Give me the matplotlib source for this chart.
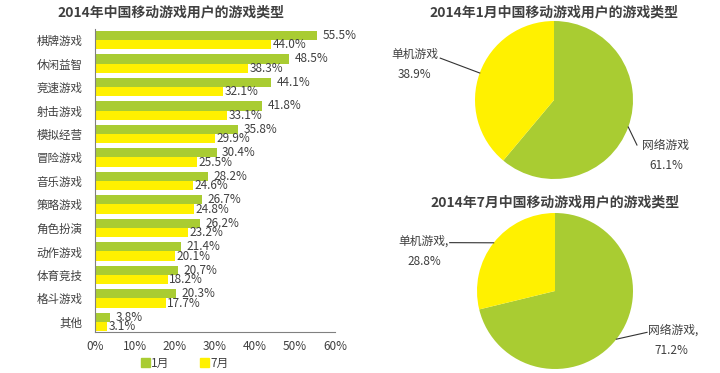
import numpy as np
import matplotlib
matplotlib.use('Agg')
import matplotlib.pyplot as plt
from matplotlib.patches import Patch

plt.rcParams['font.family'] = ['Noto Sans CJK SC', 'DejaVu Sans']

categories = ['棋牌游戏', '休闲益智', '竞速游戏', '射击游戏', '模拟经营', '冒险游戏', '音乐游戏',
              '策略游戏', '角色扮演', '动作游戏', '体育竞技', '格斗游戏', '其他']
jan_values = [55.5, 48.5, 44.1, 41.8, 35.8, 30.4, 28.2, 26.7, 26.2, 21.4, 20.7, 20.3, 3.8]
jul_values = [44.0, 38.3, 32.1, 33.1, 29.9, 25.5, 24.6, 24.8, 23.2, 20.1, 18.2, 17.7, 3.1]
x_ticks = [0, 10, 20, 30, 40, 50, 60]

pie_labels = ['网络游戏', '单机游戏']
pie_jan = [61.1, 38.9]
pie_jul = [71.2, 28.8]

green = '#A9CC32'
yellow = '#FFF100'
text_color = '#404040'

fig = plt.figure(figsize=(7.2, 3.73), dpi=100)
W, H = 720, 373

def box(x0, y0, x1, y1):
    return [x0 / W, 1 - y1 / H, (x1 - x0) / W, (y1 - y0) / H]

# bar chart
ax = fig.add_axes(box(95, 29, 335, 332))
y = np.arange(len(categories))
h = 0.4
ax.barh(y - h / 2, jan_values, height=h, color=green, label='1月')
ax.barh(y + h / 2, jul_values, height=h, color=yellow, label='7月')
for yi, v in zip(y, jan_values):
    ax.annotate(f'{v:.1f}%', (v, yi - h / 2), xytext=(4, 0), textcoords='offset points',
                va='center', ha='left', fontsize=8.5, color=text_color)
for yi, v in zip(y, jul_values):
    ax.annotate(f'{v:.1f}%', (v, yi + h / 2), xytext=(1, 0), textcoords='offset points',
                va='center', ha='left', fontsize=8.5, color=text_color)
ax.set_xlim(0, 60)
ax.set_ylim(12.43, -0.47)
ax.set_yticks(y)
ax.set_yticklabels(categories, fontsize=8.3, color=text_color)
ax.set_xticks(x_ticks)
ax.set_xticklabels([f'{t}%' for t in x_ticks], fontsize=8.5, color=text_color)
ax.tick_params(axis='x', length=0, pad=6)
ax.tick_params(axis='y', length=0, pad=9)
for s in ['top', 'right']:
    ax.spines[s].set_visible(False)
for s in ['left', 'bottom']:
    ax.spines[s].set_color('#808080')
    ax.spines[s].set_linewidth(0.8)
fig.text(171 / W, 1 - 13 / H, '2014年中国移动游戏用户的游戏类型', ha='center', va='center',
         fontsize=10, fontweight='bold', color=text_color)
fig.legend(handles=[Patch(color=green, label='1月'), Patch(color=yellow, label='7月')],
           loc='center', bbox_to_anchor=(185 / W, 1 - 363 / H), ncol=2, frameon=False,
           handlelength=0.7, handleheight=0.7, handletextpad=0.15, columnspacing=2.6,
           fontsize=8.5, labelcolor=text_color)


def draw_pie(cx, cy, r, values, title, title_y, lab_net, lab_single, net_pos, single_pos):
    pax = fig.add_axes(box(cx - r, cy - r, cx + r, cy + r))
    wedges, _ = pax.pie(values, colors=[green, yellow], startangle=90, counterclock=False,
                        radius=1)
    pax.set_xlim(-1, 1)
    pax.set_ylim(-1, 1)
    pax.set_aspect('equal')
    # leader lines from the middle of each wedge
    for w, pos, lab, val in zip(wedges, [net_pos, single_pos], [lab_net, lab_single], values):
        mid = np.deg2rad((w.theta1 + w.theta2) / 2)
        px, py = np.cos(mid), np.sin(mid)
        (ex, ey), (tx, ty), side = pos
        pax.plot([px, ex], [py, ey], color='#333333', lw=0.8, clip_on=False)
        pax.text(tx, ty, lab, ha=side, va='center', fontsize=8.5, color=text_color, clip_on=False)
        pax.text(tx + (0.3 if side == 'left' else -0.3), ty - 20 / r, f'{val:.1f}%',
                 ha='center', va='center', fontsize=8.5, color=text_color, clip_on=False)
    fig.text(cx / W, 1 - title_y / H, title, ha='center', va='center',
             fontsize=10, fontweight='bold', color=text_color)


r = 79
draw_pie(554, 100, r, pie_jan, '2014年1月中国移动游戏用户的游戏类型', 12, '网络游戏', '单机游戏',
         ((1.05, -0.57), (1.12, -0.57), 'left'),
         ((-1.44, 0.53), (-1.46, 0.57), 'right'))
draw_pie(555, 291, 78, pie_jul, '2014年7月中国移动游戏用户的游戏类型', 202, '网络游戏,', '单机游戏,',
         ((1.18, -0.53), (1.19, -0.50), 'left'),
         ((-1.35, 0.62), (-1.37, 0.64), 'right'))

fig.savefig('out.png', dpi=100)
